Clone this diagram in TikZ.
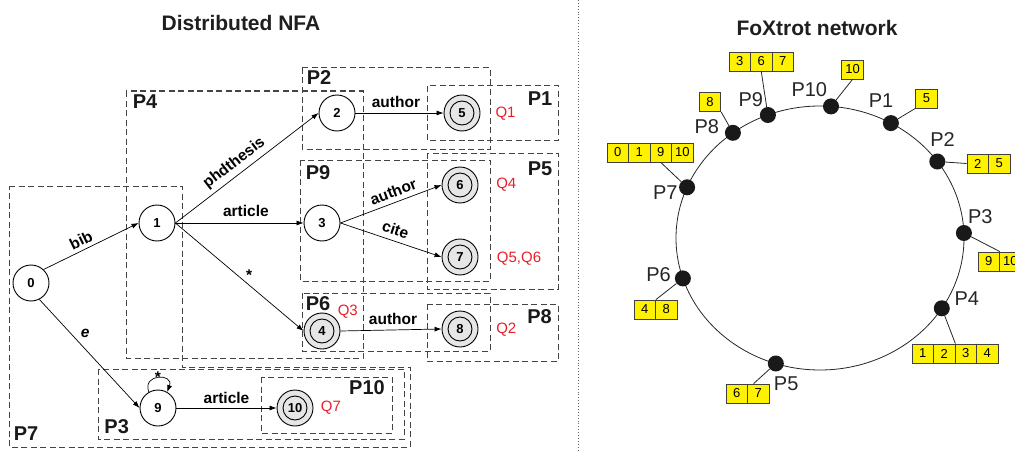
\documentclass[tikz,border=0pt]{standalone}
\usepackage{fontspec}
\setmainfont{Liberation Sans}
\usetikzlibrary{arrows.meta,calc}
\definecolor{boxgray}{HTML}{444444}
\definecolor{qred}{HTML}{E8202A}
\definecolor{stategray}{HTML}{E6E6E6}
\begin{document}
\begin{tikzpicture}[x=1pt,y=-1pt,
  part/.style={draw=boxgray, line width=1pt, dash pattern=on 6pt off 3.5pt},
  partlbl/.style={font=\bfseries\fontsize{20}{24}\selectfont, inner sep=0pt, text=black!90},
  state/.style={circle, draw, line width=0.9pt, minimum size=36pt, inner sep=0pt, fill=white, font=\bfseries\fontsize{13}{15}\selectfont},
  accept/.style={state, fill=stategray, path picture={\draw[line width=0.9pt] (path picture bounding box.center) circle[radius=12pt];}},
  trans/.style={-{Latex[length=7pt,width=5pt]}, line width=0.7pt},
  elbl/.style={font=\bfseries\fontsize{15.5}{18}\selectfont, inner sep=1.5pt},
  qlbl/.style={text=qred, font=\fontsize{15}{18}\selectfont, inner sep=0pt},
  peer/.style={circle, fill=black!90, minimum size=16pt, inner sep=0pt},
  peerlbl/.style={font=\fontsize{20}{24}\selectfont, inner sep=0pt, text=black!85},
  cell/.style={draw=black!75, line width=0.8pt, fill=yellow, minimum width=21.5pt, minimum height=19pt, inner sep=0pt, font=\fontsize{13}{15}\selectfont},
  link/.style={line width=0.8pt, draw=black!85},
  title/.style={font=\bfseries\fontsize{21}{25}\selectfont, inner sep=0pt, text=black!88}
]
\useasboundingbox (0,0) rectangle (1015,452);
\clip (0,0) rectangle (1015,452);

% titles
\node[title] (t1) at (241,22.5) {Distributed NFA};
\node[title] (t2) at (817,28) {FoXtrot network};

% separator
\draw[dotted, line width=0.9pt, black!60] (578,0) -- (578,452);

% peer partitions (left)
\draw[part] (126,91) rectangle (363,358);
\draw[part] (302,68) rectangle (490,149);
\draw[part] (427,86) rectangle (558,140);
\draw[part] (300,160) rectangle (490,281);
\draw[part] (427,153) rectangle (558,289);
\draw[part] (302,293) rectangle (490,351);
\draw[part] (427,304) rectangle (558,361);
\draw[part] (9,186) -- (182,186) -- (182,367) -- (410,367) -- (410,447) -- (9,447) -- cycle;
\draw[part] (98,369) rectangle (404,439);
\draw[part] (261,377) rectangle (392,433);

\node[partlbl] (lp4) at (145,102) {P4};
\node[partlbl] (lp2) at (319,78) {P2};
\node[partlbl] (lp1) at (540,99) {P1};
\node[partlbl] (lp9) at (318,173) {P9};
\node[partlbl] (lp5) at (540,168.5) {P5};
\node[partlbl] (lp6) at (318,304) {P6};
\node[partlbl] (lp8) at (539.5,317) {P8};
\node[partlbl] (lp3) at (116.7,426.7) {P3};
\node[partlbl] (lp7) at (26,433.7) {P7};
\node[partlbl] (lp10) at (367,387.5) {P10};

% states
\node[state] (n0) at (31,283) {0};
\node[state] (n1) at (157,223) {1};
\node[state] (n2) at (337,113) {2};
\node[state] (n3) at (322,223) {3};
\node[accept] (n4) at (322,331) {4};
\node[accept] (n5) at (462,113) {5};
\node[accept] (n6) at (460,185) {6};
\node[accept] (n7) at (460,257) {7};
\node[accept] (n8) at (460,329) {8};
\node[state] (n9) at (158,408) {9};
\node[accept] (n10) at (295,408) {10};

% transitions
\draw[trans] (n0.47) -- node[elbl, sloped, above=2.5pt, pos=0.44] {bib} (n1.west);
\draw[trans] (n1.east) -- node[elbl, sloped, above=2.5pt, pos=0.46] {phdthesis} (n2.west);
\draw[trans] (n1.east) -- node[elbl, above=4.5pt, pos=0.55] {article} (n3.west);
\draw[trans] (n1.east) -- node[elbl, pos=0.52, inner sep=0pt, anchor=base, xshift=7pt, yshift=-1.7pt] {*} (n4.west);
\draw[trans] (n2.east) -- node[elbl, above=3.8pt, pos=0.46] {author} (n5.west);
\draw[trans] (n3.east) -- node[elbl, sloped, above=3.3pt, pos=0.56] {author} (n6.west);
\draw[trans] (n3.east) -- node[elbl, sloped, above=3.5pt, pos=0.51] {cite} (n7.west);
\draw[trans] (n4.east) -- node[elbl, above=3.3pt, pos=0.52] {author} (n8.west);
\draw[trans] (n0.-63) -- node[elbl, pos=0.38, above right, inner sep=3pt, font=\bfseries\itshape\fontsize{15.5}{18}\selectfont] {e} (n9.west);
\draw[trans] (n9.120) .. controls +(110:20pt) and +(70:20pt) .. node[elbl, pos=0.5, inner sep=0pt, anchor=base, yshift=-4.7pt] {*} (n9.60);
\draw[trans] (n9.east) -- node[elbl, above=2.8pt, pos=0.5] {article} (n10.west);

% queries
\node[qlbl] (q1) at (505.5,113.5) {Q1};
\node[qlbl] (q4) at (506.3,184.5) {Q4};
\node[qlbl] (q56) at (519,259) {Q5,Q6};
\node[qlbl] (q3) at (347.8,311.5) {Q3};
\node[qlbl] (q2) at (506.3,330) {Q2};
\node[qlbl] (q7) at (331,407.5) {Q7};

% ring (right)
\draw[line width=0.8pt, black!85] (820,238) ellipse [x radius=144, y radius=132];

\node[peer] (p7) at (687.1,187.3) {};
\node[peer] (p8) at (732.9,132.8) {};
\node[peer] (p9) at (767.9,115.0) {};
\node[peer] (p10) at (831.0,106.4) {};
\node[peer] (p1) at (890.9,123.1) {};
\node[peer] (p2) at (937.3,161.5) {};
\node[peer] (p3) at (963.9,233.0) {};
\node[peer] (p4) at (941.8,308.3) {};
\node[peer] (p5) at (775.8,363.5) {};
\node[peer] (p6) at (682.9,278.4) {};

\node[peerlbl] (r7) at (665.3,192.2) {P7};
\node[peerlbl] (r8) at (706.8,126.3) {P8};
\node[peerlbl] (r9) at (750.8,99.5) {P9};
\node[peerlbl] (r10) at (809.3,89.5) {P10};
\node[peerlbl] (r1) at (881,100.5) {P1};
\node[peerlbl] (r2) at (942.5,139.2) {P2};
\node[peerlbl] (r3) at (980.3,216.2) {P3};
\node[peerlbl] (r4) at (966.8,298.5) {P4};
\node[peerlbl] (r5) at (786.2,383.8) {P5};
\node[peerlbl] (r6) at (658.5,274.7) {P6};

% state tables
\node[cell] (c9a) at (739.75,61.5) {3};
\node[cell] (c9b) at (761.25,61.5) {6};
\node[cell] (c9c) at (782.75,61.5) {7};
\node[cell] (c8a) at (710,102) {8};
\node[cell] (c7a) at (617.75,152.5) {0};
\node[cell] (c7b) at (639.25,152.5) {1};
\node[cell] (c7c) at (660.75,152.5) {9};
\node[cell] (c7d) at (682.25,152.5) {10};
\node[cell] (c10a) at (852.5,69.5) {10};
\node[cell] (c1a) at (926.5,98.5) {5};
\node[cell] (c2a) at (977.75,163.5) {2};
\node[cell] (c2b) at (999.25,163.5) {5};
\node[cell] (c3a) at (988.75,261.5) {9};
\node[cell] (c3b) at (1010.25,261.5) {10};
\node[cell] (c4a) at (922.75,353.5) {1};
\node[cell] (c4b) at (944.25,353.5) {2};
\node[cell] (c4c) at (965.75,353.5) {3};
\node[cell] (c4d) at (987.25,353.5) {4};
\node[cell] (c6a) at (644.75,309.5) {4};
\node[cell] (c6b) at (666.25,309.5) {8};
\node[cell] (c5a) at (736.75,393.5) {6};
\node[cell] (c5b) at (758.25,393.5) {7};

\draw[link] (p7) -- (c7c.south);
\draw[link] (p8) -- (c8a.south east);
\draw[link] (p9) -- (c9b.south);
\draw[link] (p10) -- (c10a.south);
\draw[link] (p1) -- (c1a.south west);
\draw[link] (p2) -- (c2a.west);
\draw[link] (p3) -- (c3a.north east);
\draw[link] (p4) -- (c4b.north east);
\draw[link] (p6) -- (c6a.north east);
\draw[link] (p5) -- ($(c5b.north west)+(6.5pt,0pt)$);
\end{tikzpicture}
\end{document}
